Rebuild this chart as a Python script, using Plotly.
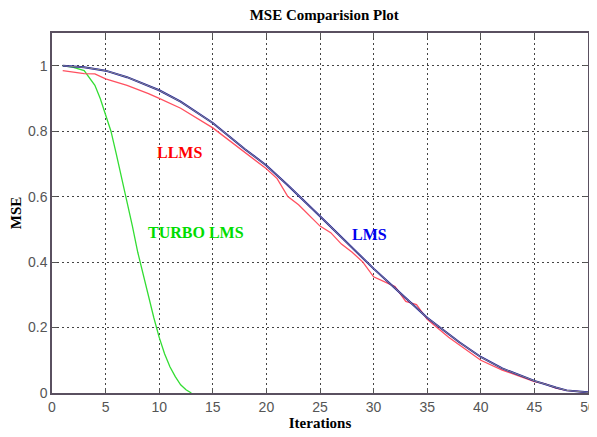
import plotly.graph_objects as go

# ---- data ----
lms_x = [1, 3, 5, 7, 10, 12, 15, 18, 20, 22, 25, 28, 30, 32, 35, 38, 40, 42, 45, 47, 48, 50]
lms_y = [1.0, 0.995, 0.985, 0.965, 0.925, 0.89, 0.825, 0.745, 0.695, 0.635, 0.54, 0.445,
         0.38, 0.32, 0.23, 0.155, 0.11, 0.075, 0.037, 0.017, 0.008, 0.002]

llms_x = [1, 2, 3, 4, 5, 7, 9, 10, 12, 15, 17, 18, 19, 20, 21, 22, 23, 25, 26, 27, 28, 29,
          30, 31, 32, 33, 34, 35, 37, 40, 42, 45, 46, 47, 48, 50]
llms_y = [0.985, 0.98, 0.976, 0.975, 0.96, 0.94, 0.915, 0.9, 0.87, 0.81, 0.76, 0.735, 0.71,
          0.685, 0.655, 0.60, 0.575, 0.51, 0.49, 0.455, 0.43, 0.40, 0.355, 0.34, 0.325, 0.28,
          0.27, 0.225, 0.17, 0.10, 0.07, 0.035, 0.028, 0.015, 0.008, 0.002]

turbo_x = [1, 2, 3, 4, 4.5, 5, 5.5, 6, 6.5, 7, 7.5, 8, 8.5, 9, 9.5, 10, 10.5, 11, 11.5, 12, 12.5, 13]
turbo_y = [1.0, 0.995, 0.985, 0.94, 0.90, 0.85, 0.80, 0.73, 0.66, 0.59, 0.51, 0.43, 0.36,
           0.29, 0.23, 0.17, 0.12, 0.08, 0.05, 0.025, 0.01, 0.0]

x_ticks = [0, 5, 10, 15, 20, 25, 30, 35, 40, 45, 50]
y_ticks = [0, 0.2, 0.4, 0.6, 0.8, 1]
y_tick_labels = ["0", "0.2", "0.4", "0.6", "0.8", "1"]

labels = [
    {"text": "LLMS", "x": 11.9, "y": 0.735, "color": "#ff0000"},
    {"text": "TURBO LMS", "x": 13.4, "y": 0.49, "color": "#00dd00"},
    {"text": "LMS", "x": 29.6, "y": 0.485, "color": "#0000ee"},
]

fig = go.Figure()
fig.add_trace(go.Scatter(x=turbo_x, y=turbo_y, mode="lines", line=dict(color="#33dd33", width=1.3),
                         name="TURBO LMS", showlegend=False))
fig.add_trace(go.Scatter(x=llms_x, y=llms_y, mode="lines", line=dict(color="#ff5060", width=1.3),
                         name="LLMS", showlegend=False))
fig.add_trace(go.Scatter(x=lms_x, y=lms_y, mode="lines", line=dict(color="#1a1aa0", width=2),
                         name="LMS", showlegend=False))
fig.add_trace(go.Scatter(x=lms_x, y=lms_y, mode="lines", line=dict(color="#888888", width=1),
                         name="LMS ref", showlegend=False))

for lb in labels:
    fig.add_annotation(x=lb["x"], y=lb["y"], text="<b>" + lb["text"] + "</b>", showarrow=False,
                       font=dict(family="Liberation Serif", size=16, color=lb["color"]))

axis_common = dict(
    showline=True, linecolor="#5a5060", linewidth=1.5, mirror="ticks",
    ticks="inside", ticklen=5, tickcolor="#555555",
    showgrid=True, gridcolor="#444444", griddash="2px,3px", gridwidth=1,
    zeroline=False, automargin=False, ticklabeloverflow="allow",
    tickfont=dict(family="Liberation Sans", size=14, color="#555555"),
)

fig.update_xaxes(range=[0, 50], tickvals=x_ticks, **axis_common,
                 title=dict(text="<b>Iterations</b>", standoff=4,
                            font=dict(family="Liberation Serif", size=15, color="#000000")))
fig.update_yaxes(range=[0, 1.1], tickvals=y_ticks, ticktext=y_tick_labels, **axis_common,
                 title=dict(text="<b>MSE</b>", standoff=6,
                            font=dict(family="Liberation Serif", size=15, color="#000000")))

fig.update_layout(
    width=589, height=429,
    margin=dict(l=44, r=9, t=25, b=44),
    paper_bgcolor="white", plot_bgcolor="white",
    title=dict(text="<b>MSE Comparision Plot</b>", x=0.537, xanchor="center", y=0.984, yanchor="middle",
               font=dict(family="Liberation Serif", size=15, color="#000000")),
)

fig.write_html("out.html")
